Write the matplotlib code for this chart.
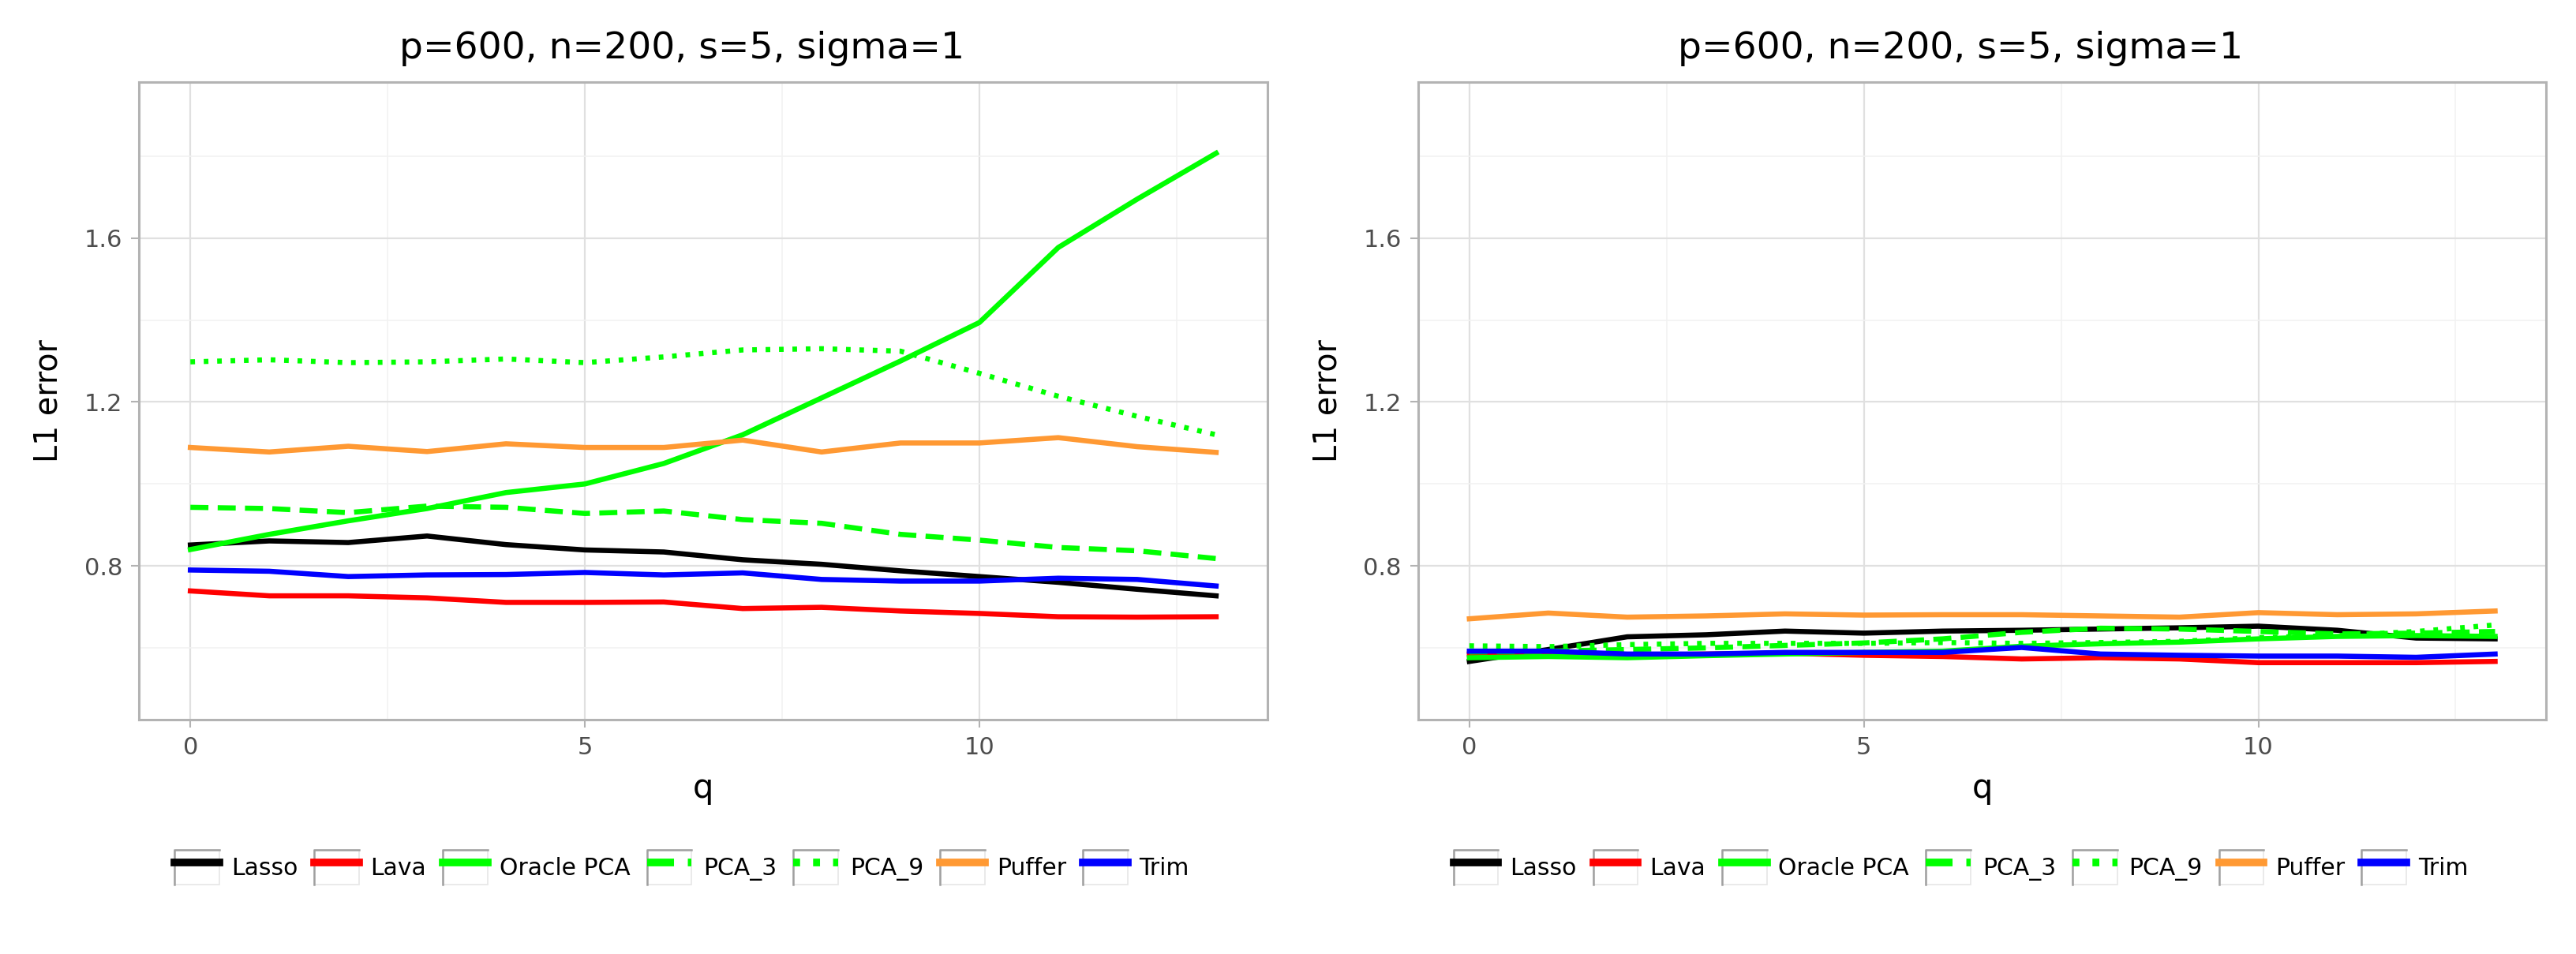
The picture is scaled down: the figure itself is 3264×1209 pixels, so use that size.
import matplotlib
matplotlib.use("Agg")
import matplotlib.pyplot as plt
from matplotlib.ticker import MultipleLocator
from matplotlib.legend_handler import HandlerLine2D
from matplotlib.patches import Rectangle
from matplotlib.lines import Line2D

plt.rcParams['font.family'] = ['DejaVu Sans']

q = list(range(14))

# left panel
left = {
    "Lasso": [0.851, 0.861, 0.857, 0.873, 0.852, 0.839, 0.834, 0.815, 0.804, 0.788, 0.774, 0.760, 0.743, 0.727],
    "Lava": [0.739, 0.727, 0.727, 0.722, 0.711, 0.711, 0.712, 0.696, 0.699, 0.690, 0.684, 0.676, 0.675, 0.676],
    "Oracle PCA": [0.840, 0.877, 0.910, 0.940, 0.979, 1.000, 1.050, 1.120, 1.210, 1.300, 1.394, 1.577, 1.695, 1.807],
    "PCA_3": [0.943, 0.940, 0.930, 0.946, 0.943, 0.928, 0.934, 0.913, 0.904, 0.877, 0.863, 0.845, 0.837, 0.818],
    "PCA_9": [1.298, 1.303, 1.296, 1.298, 1.305, 1.296, 1.310, 1.327, 1.330, 1.324, 1.270, 1.214, 1.165, 1.120],
    "Puffer": [1.089, 1.078, 1.092, 1.079, 1.098, 1.089, 1.089, 1.107, 1.078, 1.100, 1.100, 1.113, 1.091, 1.077],
    "Trim": [0.790, 0.787, 0.774, 0.778, 0.779, 0.784, 0.778, 0.783, 0.767, 0.763, 0.763, 0.770, 0.767, 0.751],
}

# right panel
right = {
    "Lasso": [0.567, 0.596, 0.627, 0.632, 0.641, 0.636, 0.641, 0.643, 0.646, 0.649, 0.653, 0.643, 0.624, 0.622],
    "Lava": [0.585, 0.585, 0.582, 0.585, 0.587, 0.582, 0.579, 0.573, 0.576, 0.573, 0.564, 0.564, 0.564, 0.567],
    "Oracle PCA": [0.576, 0.579, 0.576, 0.581, 0.585, 0.589, 0.592, 0.604, 0.610, 0.614, 0.622, 0.628, 0.630, 0.628],
    "PCA_3": [0.590, 0.592, 0.596, 0.600, 0.606, 0.612, 0.622, 0.638, 0.648, 0.646, 0.640, 0.634, 0.636, 0.640],
    "PCA_9": [0.605, 0.603, 0.608, 0.611, 0.611, 0.611, 0.613, 0.611, 0.613, 0.616, 0.625, 0.630, 0.640, 0.656],
    "Puffer": [0.671, 0.685, 0.675, 0.678, 0.683, 0.680, 0.681, 0.681, 0.678, 0.675, 0.686, 0.681, 0.683, 0.690],
    "Trim": [0.592, 0.592, 0.585, 0.585, 0.589, 0.589, 0.589, 0.601, 0.585, 0.582, 0.580, 0.580, 0.577, 0.585],
}

colors = {"Lasso": "black", "Lava": "#FF0000", "Oracle PCA": "#00FF00", "PCA_3": "#00FF00",
          "PCA_9": "#00FF00", "Puffer": "#FF9933", "Trim": "#0000FF"}
styles = {"Lasso": "-", "Lava": "-", "Oracle PCA": "-", "PCA_3": (0, (3.5, 1.8)),
          "PCA_9": (0, (0.9, 1.7)), "Puffer": "-", "Trim": "-"}

title = "p=600, n=200, s=5, sigma=1"


# legend key drawn inside a small box, like the ggplot keys
class BoxedKey(HandlerLine2D):
    def create_artists(self, legend, orig_handle, xdescent, ydescent, width, height, fontsize, trans):
        arts = super().create_artists(legend, orig_handle, xdescent, ydescent, width, height, fontsize, trans)
        for a in arts:
            a.set_linewidth(7)
        x0, y0 = -xdescent, -ydescent
        box = Rectangle((x0, y0), width, height, facecolor='white', edgecolor='#E6E6E6',
                        lw=1.2, transform=trans)
        edge = Line2D([x0, x0, x0 + width], [y0, y0 + height, y0 + height], color='#A0A0A0',
                      lw=1.8, transform=trans)
        return [box, edge] + arts


fig = plt.figure(figsize=(32.64, 12.09), dpi=100)
ax1 = fig.add_axes([0.054, 0.2457, 0.438, 0.668])
ax2 = fig.add_axes([0.5505, 0.2457, 0.438, 0.668])

for ax, data in [(ax1, left), (ax2, right)]:
    for name, vals in data.items():
        ax.plot(q, vals, color=colors[name], linestyle=styles[name], lw=4.7, label=name)
    ax.set_xlim(-0.65, 13.65)
    ax.set_ylim(0.425, 1.98)
    ax.xaxis.set_major_locator(MultipleLocator(5))
    ax.xaxis.set_minor_locator(MultipleLocator(2.5))
    ax.yaxis.set_minor_locator(MultipleLocator(0.2))
    ax.set_yticks([0.8, 1.2, 1.6])
    ax.set_yticklabels(["0.8", "1.2", "1.6"])
    ax.grid(True, which='major', color='#E0E0E0', lw=1.6)
    ax.grid(True, which='minor', color='#F2F2F2', lw=1.2)
    ax.set_axisbelow(True)
    for s in ax.spines.values():
        s.set_color('#B3B3B3')
        s.set_linewidth(2.2)
    ax.tick_params(which='major', length=7, width=1.5, color='#B3B3B3', labelsize=22,
                   labelcolor='#4D4D4D', pad=8)
    ax.tick_params(which='minor', length=0)
    ax.set_title(title, fontsize=34, x=0.481, pad=22)
    ax.set_xlabel("q", fontsize=30, labelpad=12)
    ax.set_ylabel("L1 error", fontsize=28.5, labelpad=18)
    ax.legend(loc='center', bbox_to_anchor=(0.481, -0.2316), ncol=7, frameon=False,
              fontsize=21.5, handlelength=1.9, handleheight=1.9, handletextpad=0.5,
              columnspacing=0.7, handler_map={Line2D: BoxedKey(marker_pad=0)})

fig.savefig("out.png", dpi=100, facecolor='white')
